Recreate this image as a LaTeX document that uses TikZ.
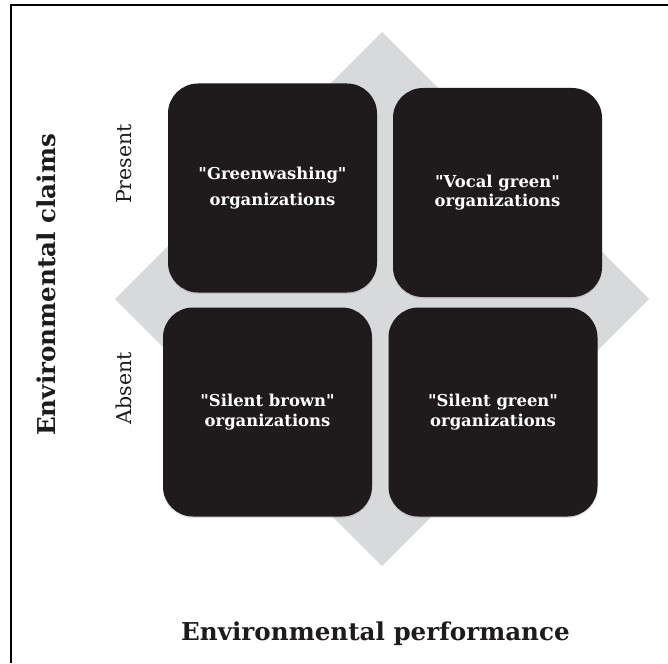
\documentclass[tikz,border=0pt]{standalone}
\usepackage{fontspec}
\setmainfont{DejaVu Serif}[Ligatures=TeXOff]
\usetikzlibrary{shadows}

\definecolor{boxblack}{RGB}{31,27,28}
\definecolor{diamondgray}{RGB}{216,217,219}

\begin{document}
\begin{tikzpicture}[x=1pt,y=-1pt,
		quad/.style={rounded corners=30pt,fill=boxblack,minimum width=209pt,minimum height=209pt,
			text=white,align=center,font=\fontsize{16.4}{19.5}\selectfont\bfseries,
			drop shadow={opacity=0.25,shadow xshift=0pt,shadow yshift=-1.5pt}},
		axislabel/.style={font=\fontsize{24.6}{28}\selectfont\bfseries,text=boxblack},
		levellabel/.style={font=\fontsize{20.5}{24}\selectfont,text=boxblack,rotate=90}]
		\useasboundingbox (0,0) rectangle (668,663);
		% frame, open on the right and at the bottom
		\draw[line width=2pt] (11,663) -- (11,5) -- (668,5);
		% grey diamond behind the grid
		\fill[diamondgray] (382,32) -- (649,299) -- (382,566) -- (115,299) -- cycle;
		% the four quadrants
		\node[quad] (gw) at (272.5,188) {"Greenwashing"\\[6pt]organizations};
		\node[quad] (vg) at (497.5,192.5) {"Vocal green"\\organizations};
		\node[quad] (sb) at (267.5,412) {"Silent brown"\\organizations};
		\node[quad] (sg) at (493,412) {"Silent green"\\organizations};
		% axis labels
		\node[levellabel] (present) at (124,164) {Present};
		\node[levellabel] (absent) at (124,388) {Absent};
		\node[axislabel,rotate=90] (claims) at (46,285) {Environmental claims};
		\node[axislabel] (perf) at (375.5,634) {Environmental performance};
	\end{tikzpicture}
\end{document}
